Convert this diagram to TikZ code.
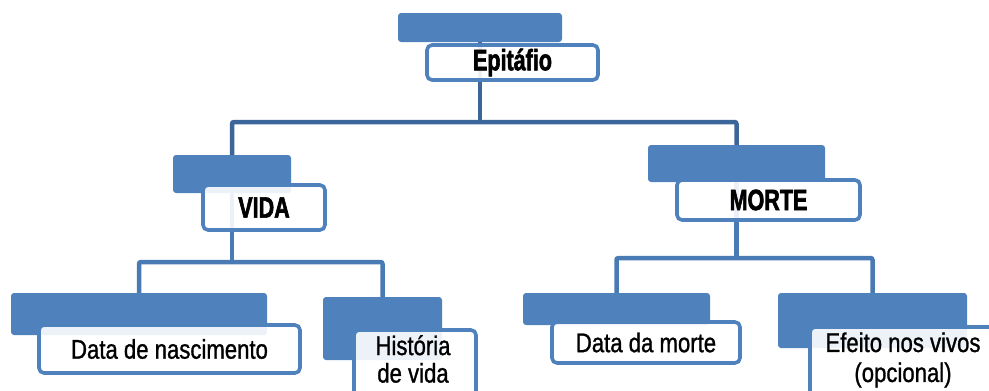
\documentclass[tikz,border=0pt]{standalone}
\usepackage{fontspec}
\setmainfont{Liberation Sans}
\newfontfamily\regf{Liberation Sans}[FakeStretch=0.82, FakeBold=1]
\newfontfamily\boldf{Liberation Sans}[FakeStretch=0.73, BoldFeatures={FakeBold=2}]
\usetikzlibrary{backgrounds}
\definecolor{boxblue}{HTML}{4F81BD}
\definecolor{conntop}{HTML}{3C6699}
\definecolor{connlow}{HTML}{4A7AB4}
\tikzset{
  bluerect/.style={fill=boxblue, draw=none, rounded corners=3pt, inner sep=0pt},
  whitebox/.style={fill=white, fill opacity=0.9, text opacity=1, draw=boxblue, draw opacity=1,
    line width=3.6pt, rounded corners=5pt, inner sep=0pt, text=black},
  boldtxt/.style={font=\boldf\bfseries\fontsize{29.5}{32}\selectfont},
  regtxt/.style={font=\regf\fontsize{27}{30}\selectfont},
  conna/.style={draw=conntop, line width=4.5pt, rounded corners=2pt},
  connb/.style={draw=connlow, line width=4.5pt, rounded corners=2pt},
  txtnode/.style={inner sep=0pt, align=center, text=black}
}
\begin{document}
\begin{tikzpicture}[x=1pt,y=-1pt]
\useasboundingbox (0,0) rectangle (989,391);
\clip (0,0) rectangle (989,391);
% blue tabs
\node[bluerect, minimum width=164, minimum height=29] (tb) at (480,27.5) {};
\node[bluerect, minimum width=118, minimum height=38] (vb) at (232,174) {};
\node[bluerect, minimum width=177, minimum height=37] (mb) at (736.5,163.5) {};
\node[bluerect, minimum width=256, minimum height=42] (dnb) at (139,314) {};
\node[bluerect, minimum width=119, minimum height=63] (hb) at (382.5,328.5) {};
\node[bluerect, minimum width=187, minimum height=32] (dmb) at (616.5,309) {};
\node[bluerect, minimum width=189, minimum height=55] (eb) at (872.5,320.5) {};
% junctions
\coordinate (j1) at (480,122);
\coordinate (j2) at (232,262);
\coordinate (j3) at (736.5,258);
% connectors
\begin{scope}[on background layer]
\draw[conna] (tb.center) -- (j1);
\draw[conna] (vb.north) |- (j1) -| (mb.north);
\draw[connb] (vb.center) -- (j2);
\draw[connb] (dnb.north) |- (j2) -| (hb.north);
\draw[connb] (mb.center) -- (j3);
\draw[connb] (dmb.north) |- (j3) -| (eb.north);
\end{scope}
% white boxes
\node[whitebox, boldtxt, minimum width=171, minimum height=35] (ew) at (512.5,62.5) {Epitáfio};
\node[whitebox, boldtxt, minimum width=122, minimum height=45] (vw) at (264,207.5) {VIDA};
\node[whitebox, boldtxt, minimum width=183, minimum height=40] (mw) at (768.5,200) {MORTE};
\node[whitebox, regtxt, minimum width=261, minimum height=48] (dnw) at (169.5,349) {Data de nascimento};
\node[whitebox, minimum width=122, minimum height=73] (hw) at (415,366.5) {};
\node[whitebox, regtxt, minimum width=188, minimum height=41] (dmw) at (646,342.5) {Data da morte};
\node[whitebox, minimum width=188, minimum height=71] (ew2) at (904,362.5) {};
% multi-line texts
\node[txtnode, font=\regf\fontsize{27}{27.5}\selectfont] (ht) at (413,359) {História\\de vida};
\node[txtnode, font=\regf\fontsize{27}{30}\selectfont] (et) at (903,360) {Efeito nos vivos\\(opcional)};
\end{tikzpicture}
\end{document}
